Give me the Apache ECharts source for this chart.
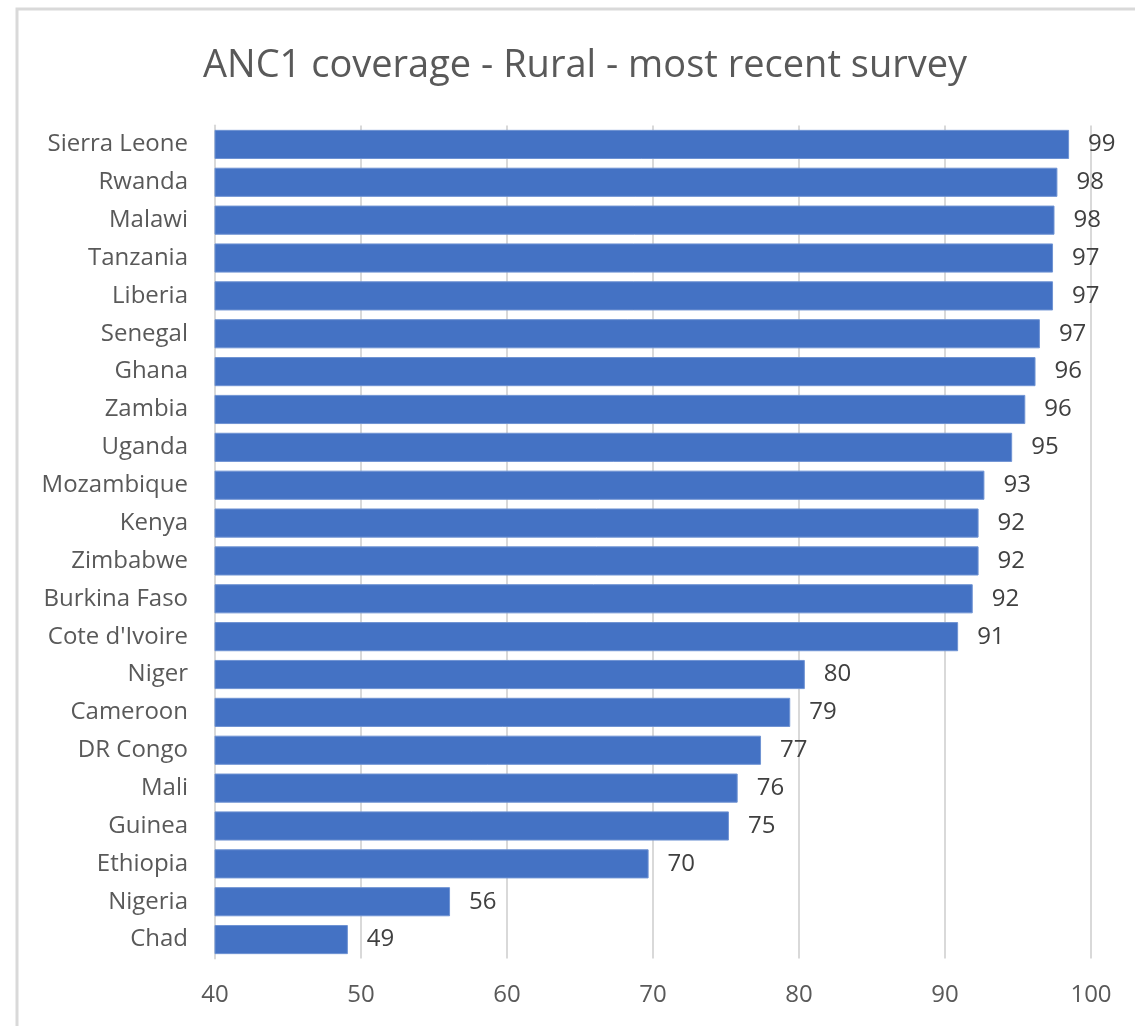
<!DOCTYPE html>
<html>
<head>
<meta charset="utf-8">
<script src="https://cdn.jsdelivr.net/npm/echarts@6/dist/echarts.min.js"></script>
<style>
html,body{margin:0;padding:0;background:#fff;}
#chart{width:1135px;height:1026px;}
</style>
</head>
<body>
<div id="chart"></div>
<script>
const titleText = "ANC1 coverage - Rural - most recent survey";
const countries = ["Sierra Leone","Rwanda","Malawi","Tanzania","Liberia","Senegal","Ghana","Zambia","Uganda","Mozambique","Kenya","Zimbabwe","Burkina Faso","Cote d'Ivoire","Niger","Cameroon","DR Congo","Mali","Guinea","Ethiopia","Nigeria","Chad"];
const coverage = [98.5,97.7,97.5,97.4,97.4,96.5,96.2,95.5,94.6,92.7,92.3,92.3,91.9,90.9,80.4,79.4,77.4,75.8,75.2,69.7,56.1,49.1];
const xTicks = [40,50,60,70,80,90,100];

const FONT = "Open Sans";
const chart = echarts.init(document.getElementById('chart'), null, {renderer:'canvas'});
chart.setOption({
  animation:false,
  backgroundColor:'#ffffff',
  title:{
    text:titleText,
    left:198,
    top:42,
    textStyle:{fontFamily:FONT,fontSize:38,fontWeight:'normal',color:'#595959'}
  },
  graphic:[{
    type:'rect',
    shape:{x:17,y:9,width:1200,height:1100},
    style:{fill:'none',stroke:'#d9d9d9',lineWidth:3},
    silent:true
  }],
  grid:{left:215,right:44,top:125.5,bottom:67.5,containLabel:false},
  xAxis:{
    type:'value',
    min:xTicks[0],
    max:xTicks[xTicks.length-1],
    interval:10,
    axisLine:{show:false},
    axisTick:{show:false},
    splitLine:{show:true,lineStyle:{color:'#d9d9d9',width:2}},
    axisLabel:{fontFamily:FONT,fontSize:24,color:'#595959',margin:25}
  },
  yAxis:{
    type:'category',
    data:countries,
    inverse:true,
    axisLine:{show:true,lineStyle:{color:'#d9d9d9',width:2}},
    axisTick:{show:false},
    axisLabel:{fontFamily:FONT,fontSize:24,color:'#595959',margin:27}
  },
  series:[{
    type:'bar',
    data:coverage,
    barCategoryGap:'23%',
    itemStyle:{color:'#4472c4',borderColor:'#6f93d3',borderWidth:1},
    label:{
      show:true,
      position:'right',
      distance:19,
      fontFamily:FONT,
      fontSize:24,
      color:'#404040',
      formatter:p=>Math.round(p.value)
    }
  }]
});
</script>
</body>
</html>
